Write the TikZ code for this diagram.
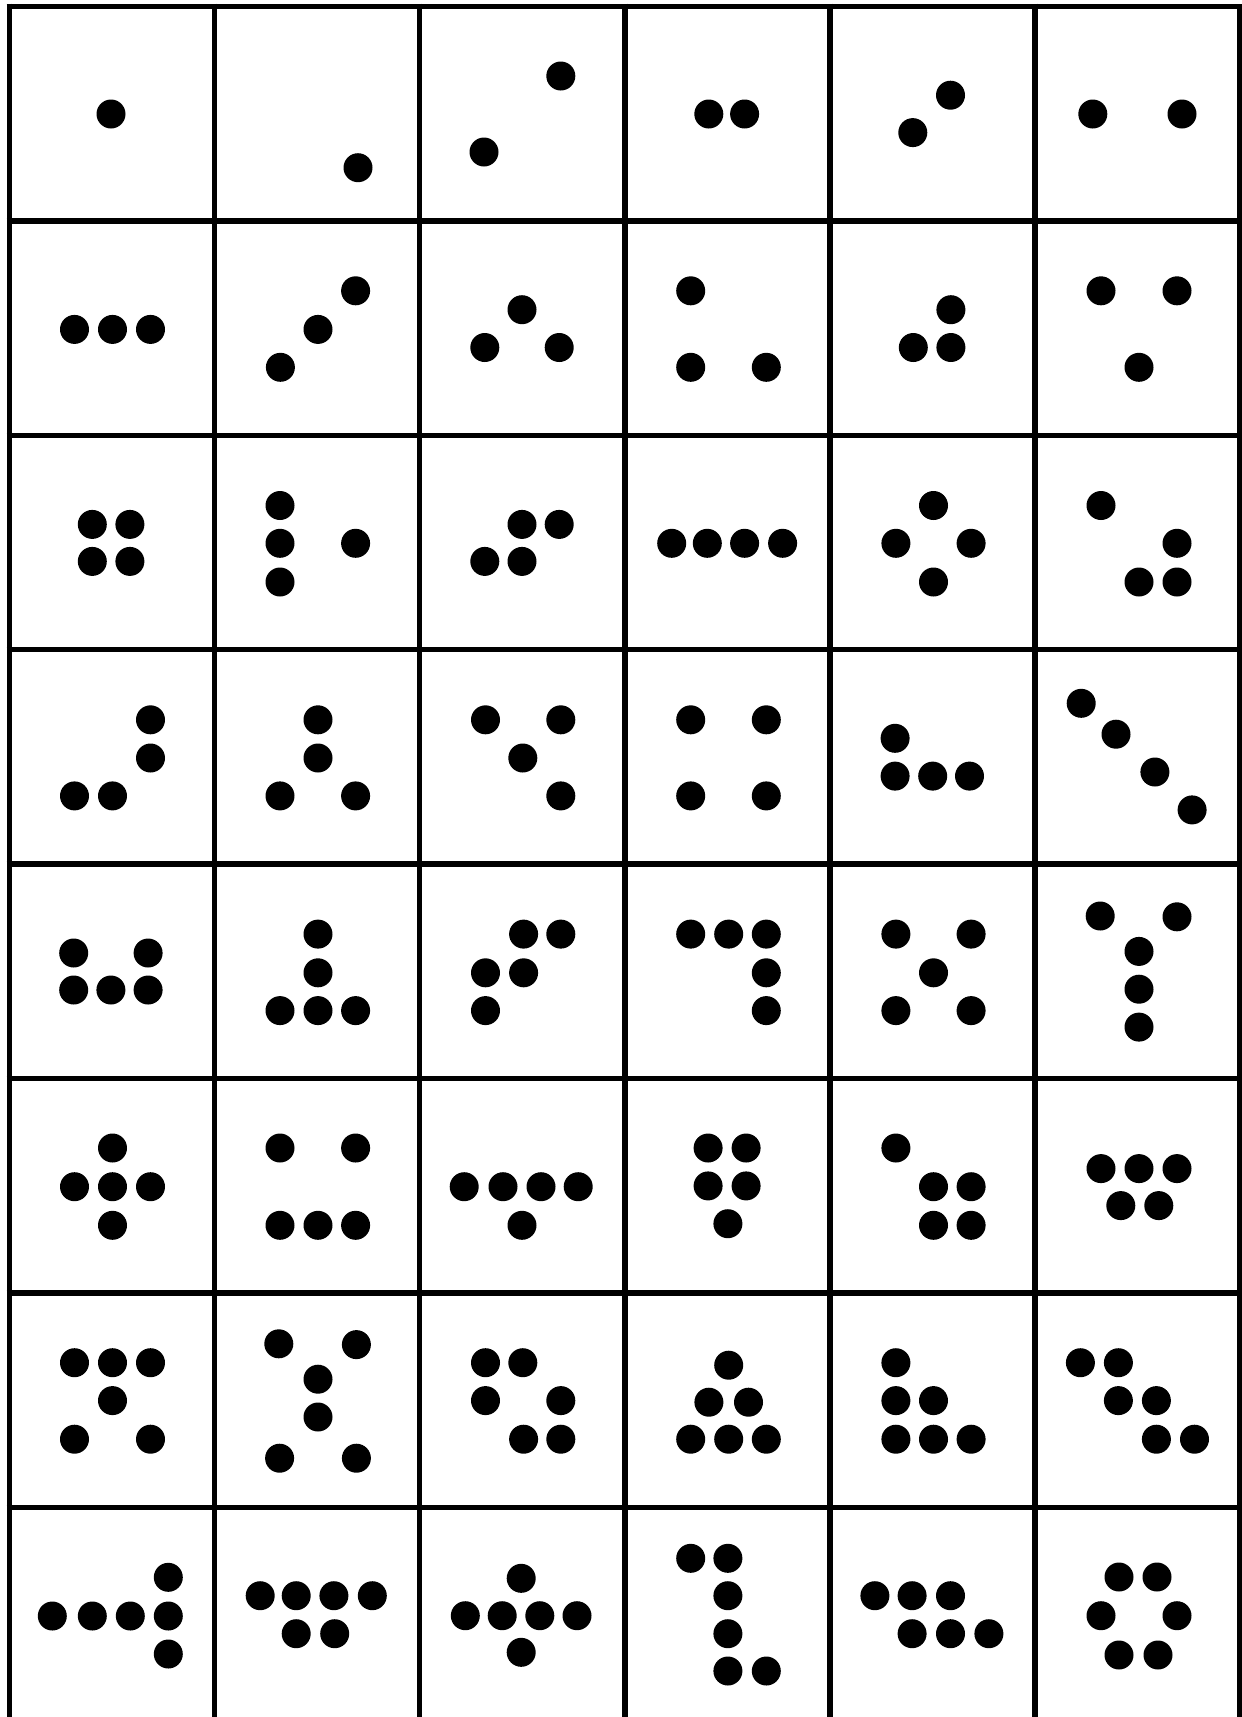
\documentclass[tikz,border=0pt]{standalone}
\begin{document}
\begin{tikzpicture}[x=1pt,y=-1pt,
  gridline/.style={line width=5.5pt,draw=black},
  dotstyle/.style={fill=black}]
\useasboundingbox (0,0) rectangle (1242,1717);
\fill[white] (0,0) rectangle (1242,1717);
% grid
\foreach \i in {0,...,6} \draw[gridline] ({9.5+205.1*\i},3.5) -- ({9.5+205.1*\i},1720);
\foreach \j in {0,...,7} \draw[gridline] (6.7,{6.5+214.4*\j}) -- (1243,{6.5+214.4*\j});
% dots
\foreach \p in {
 (111,114),
 (358,167.7),
 (484,152),(560.8,76),
 (708.8,114),(744.6,114),
 (912.8,132.6),(950.5,95.2),
 (1092.8,114),(1182,114),
 % row 2
 (74.5,329.4),(112.5,329.4),(150.5,329.4),
 (280.4,367.3),(318,329.4),(355.6,290.8),
 (484.8,347.5),(522,309.7),(559.2,347.5),
 (690.7,290.8),(690.7,367.3),(766.3,367.3),
 (950.9,309.7),(913.3,347.5),(950.9,347.5),
 (1101,290.8),(1177,290.8),(1139,367.3),
 % row 3
 (92.3,524.4),(129.9,524.4),(92.3,561.4),(129.9,561.4),
 (280,505.5),(280,543.3),(280,582),(355.6,543.3),
 (522,524.4),(559.2,524.4),(484.8,561.4),(522,561.4),
 (671.7,543.3),(707.3,543.3),(744.6,543.3),(782.6,543.3),
 (933.5,505.5),(895.9,543.3),(971.1,543.3),(933.5,582),
 (1101,505.5),(1177,543.3),(1139,582),(1177,582),
 % row 4
 (150.5,719.8),(150.5,758),(74.5,795.9),(112.5,795.9),
 (318,719.8),(318,758),(280,795.9),(355.6,795.9),
 (485.5,719.8),(560.8,719.8),(522.8,758),(560.8,795.9),
 (690.7,719.8),(766.3,719.8),(690.7,795.9),(766.3,795.9),
 (895.1,738.3),(895.1,776.1),(932.7,776.1),(969.5,776.1),
 (1081.2,703.3),(1116,734.2),(1154.9,772),(1192.1,809.9),
 % row 5
 (73.7,953),(148.1,953),(73.7,990),(110.9,990),(148.1,990),
 (318,934.1),(318,972.8),(280,1010.6),(318,1010.6),(355.6,1010.6),
 (523.6,934.1),(560.8,934.1),(485.5,972.8),(523.6,972.8),(485.5,1010.6),
 (690.7,934.1),(728.7,934.1),(766.3,934.1),(766.3,972.8),(766.3,1010.6),
 (895.9,934.1),(971.1,934.1),(933.5,972.8),(895.9,1010.6),(971.1,1010.6),
 (1100.2,916),(1177,916.8),(1139,951.4),(1139,989.2),(1139,1027.1),
 % row 6
 (112.5,1148),(74.5,1186.7),(112.5,1186.7),(150.5,1186.7),(112.5,1225.3),
 (280,1148),(355.6,1148),(280,1225.3),(318,1225.3),(355.6,1225.3),
 (464.2,1186.7),(503,1186.7),(541,1186.7),(578.2,1186.7),(522,1225.3),
 (708.1,1148),(746.1,1148),(708.1,1185.9),(746.1,1185.9),(727.9,1223.7),
 (895.9,1148),(933.5,1186.7),(971.1,1186.7),(933.5,1225.3),(971.1,1225.3),
 (1101,1168.6),(1139,1168.6),(1177,1168.6),(1120.8,1205.6),(1158.8,1205.6),
 % row 7
 (74.5,1362.7),(112.5,1362.7),(150.5,1362.7),(112.5,1400.6),(74.5,1439.2),(150.5,1439.2),
 (278.8,1343.8),(356.4,1344.6),(318,1379.2),(318,1417),(279.6,1458.2),(356.4,1458.2),
 (485.5,1362.7),(522.8,1362.7),(485.5,1400.6),(560.8,1400.6),(523.6,1439.2),(560.8,1439.2),
 (728.7,1365.2),(708.9,1402.2),(748.5,1402.2),(690.7,1439.2),(728.7,1439.2),(766.3,1439.2),
 (895.9,1362.7),(895.9,1400.6),(933.5,1400.6),(895.9,1439.2),(933.5,1439.2),(971.1,1439.2),
 (1080.4,1362.7),(1118.4,1362.7),(1118.4,1400.6),(1156.4,1400.6),(1156.4,1439.2),(1194.5,1439.2),
 % row 8
 (52.3,1616),(92.3,1616),(130.3,1616),(168.3,1577.3),(168.3,1616),(168.3,1654),
 (260.2,1595.7),(296.2,1595.7),(333.9,1595.7),(372.3,1595.7),(296.2,1633.7),(334.7,1633.7),
 (521.2,1578.3),(465.3,1615.7),(502.2,1615.7),(539.8,1615.7),(577,1615.7),(521.2,1652.3),
 (690.7,1558.3),(727.9,1558.3),(727.9,1595.7),(727.9,1633.7),(727.9,1671),(766.3,1671),
 (874.9,1595.7),(912.1,1595.7),(950.5,1595.7),(912.1,1633.7),(950.5,1633.7),(988.9,1633.7),
 (1119,1577),(1157,1577),(1101,1615.7),(1177,1615.7),(1119,1655),(1158,1655)
} \fill[dotstyle] \p circle[radius=14.5pt];
\end{tikzpicture}
\end{document}
